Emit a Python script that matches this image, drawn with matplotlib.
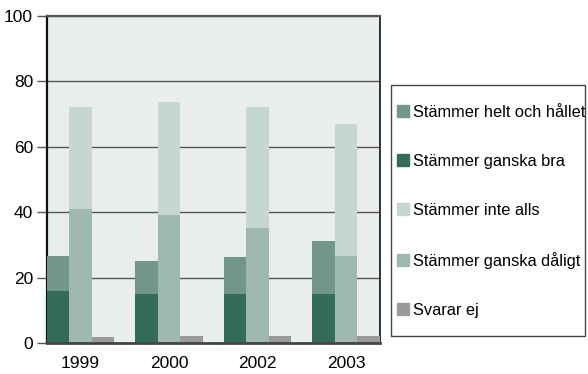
import matplotlib
matplotlib.use("Agg")
import matplotlib.pyplot as plt
import numpy as np
from matplotlib.patches import Rectangle, Patch

# Data (percent)
years = ["1999", "2000", "2002", "2003"]
ganska_bra = [16, 15, 15, 15]
helt_och_hallet = [10.7, 10, 11.3, 16.3]
ganska_daligt = [41, 39, 35, 26.6]
inte_alls = [31, 34.5, 37, 40.4]
svarar_ej = [1.8, 2, 2, 2]

labels = ["Stämmer helt och hållet", "Stämmer ganska bra", "Stämmer inte alls",
          "Stämmer ganska dåligt", "Svarar ej"]
colors = {"helt": "#72978a", "bra": "#346b5a", "inte": "#c6d6d1",
          "daligt": "#9fb9b1", "ej": "#9a9a9a"}

plt.rcParams["font.family"] = ["Liberation Sans", "DejaVu Sans"]

fig = plt.figure(figsize=(5.88, 3.74), dpi=100)
ax = fig.add_axes([47 / 588, 31 / 374, 332.5 / 588, 327.3 / 374])
ax.set_facecolor("#e9eeec")

x = np.arange(len(years))
w = 0.2527

# bar 1: ganska bra + helt och hållet
ax.bar(x - w, ganska_bra, w, color=colors["bra"], zorder=3)
ax.bar(x - w, helt_och_hallet, w, bottom=ganska_bra, color=colors["helt"], zorder=3)
# bar 2: ganska dåligt + inte alls
ax.bar(x, ganska_daligt, w, color=colors["daligt"], zorder=3)
ax.bar(x, inte_alls, w, bottom=ganska_daligt, color=colors["inte"], zorder=3)
# bar 3: svarar ej
ax.bar(x + w, svarar_ej, w, color=colors["ej"], zorder=3)

ax.set_xlim(-1.5 * w, len(years) - 1 + 1.5 * w)
ax.set_ylim(0, 100)
ax.set_yticks([0, 20, 40, 60, 80, 100])
ax.set_xticks(x)
ax.set_xticklabels(years)
ax.yaxis.grid(True, color="#555555", linewidth=1.0, zorder=1)
ax.tick_params(axis="y", length=7, width=1.0, color="#555555", pad=3, labelsize=12.5)
ax.tick_params(axis="x", length=0, pad=9, labelsize=12.5)

ax.spines["left"].set_color("#111111")
ax.spines["left"].set_linewidth(1.6)
ax.spines["top"].set_color("#555555")
ax.spines["top"].set_linewidth(1.6)
ax.spines["right"].set_color("#222222")
ax.spines["right"].set_linewidth(1.3)
ax.spines["bottom"].set_color("#444444")
ax.spines["bottom"].set_linewidth(2.0)
ax.spines["bottom"].set_zorder(4)

# legend
handles = [Patch(color=colors[k]) for k in ["helt", "bra", "inte", "daligt", "ej"]]
leg = fig.legend(handles, labels, loc="upper left",
                 bbox_to_anchor=(397 / 588, 1 - 105 / 374),
                 frameon=False, fontsize=11.8, labelspacing=2.07,
                 handlelength=0.75, handleheight=0.72, handletextpad=0.2,
                 borderpad=0, borderaxespad=0)
fig.patches.append(Rectangle((391 / 588, 1 - 336 / 374), 194 / 588, 251 / 374,
                             transform=fig.transFigure, fill=False,
                             edgecolor="#444444", linewidth=1.0))

fig.savefig("out.png", dpi=100)
